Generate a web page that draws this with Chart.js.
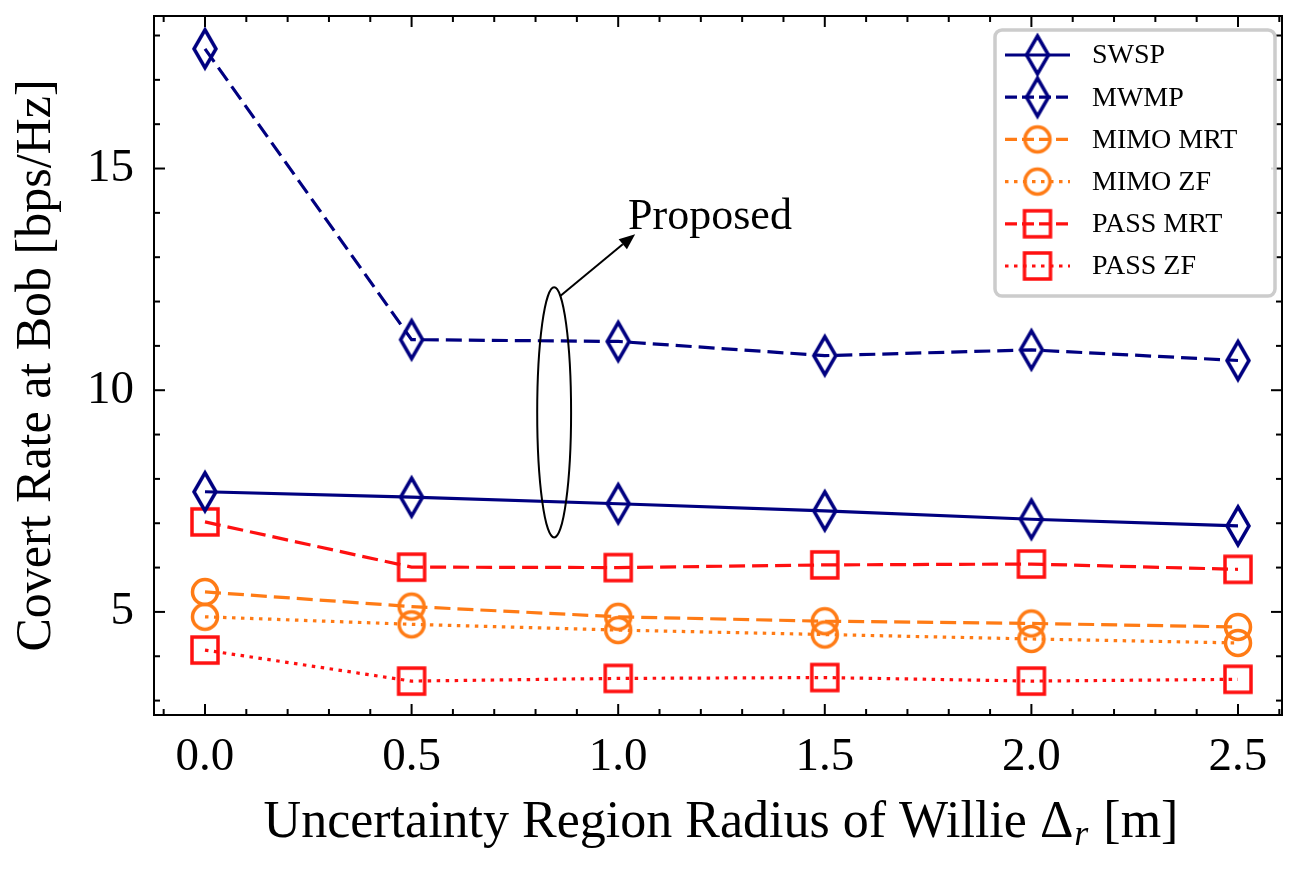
<!DOCTYPE html>
<html>
<head>
<meta charset="utf-8">
<script src="https://cdn.jsdelivr.net/npm/chart.js@4.4.1/dist/chart.umd.min.js"></script>
<style>
  html, body { margin: 0; padding: 0; background: #fff; }
  #wrap { width: 1309px; height: 872px; position: relative; }
</style>
</head>
<body>
<div id="wrap"><canvas id="grafica"></canvas></div>
<script>
// data
const radius = [0.0, 0.5, 1.0, 1.5, 2.0, 2.5];
const swsp = [7.71, 7.59, 7.44, 7.28, 7.09, 6.94];
const mwmp = [17.70, 11.14, 11.10, 10.78, 10.91, 10.67];
const mimoMrt = [5.45, 5.12, 4.89, 4.79, 4.74, 4.66];
const mimoZf = [4.89, 4.72, 4.59, 4.49, 4.39, 4.30];
const passMrt = [7.03, 6.01, 6.00, 6.06, 6.08, 5.96];
const passZf = [4.14, 3.44, 3.50, 3.52, 3.44, 3.48];
const xTicks = [0.0, 0.5, 1.0, 1.5, 2.0, 2.5];
const yTicks = [5, 10, 15];

const navy = '#000080';
const orange = '#ff7b15';
const red = '#ff1010';
const serif = '"Liberation Serif", "DejaVu Serif", serif';

// hollow markers as small canvases
const mk = (w, h, draw) => {
    const c = document.createElement('canvas');
    c.width = w; c.height = h;
    const g = c.getContext('2d');
    g.lineWidth = 3.5;
    draw(g);
    return c;
};
const diamond = mk(30, 48, g => {
    g.strokeStyle = navy;
    g.beginPath();
    g.moveTo(15, 5); g.lineTo(26, 24); g.lineTo(15, 43); g.lineTo(4, 24);
    g.closePath(); g.stroke();
});
const circle = mk(32, 32, g => {
    g.strokeStyle = orange;
    g.beginPath(); g.arc(16, 16, 12.5, 0, Math.PI * 2); g.stroke();
});
const square = mk(32, 32, g => {
    g.strokeStyle = red;
    g.strokeRect(3, 3, 26, 26);
});

const dashed = [16, 7];
const dotted = [3.5, 5.5];

const mkSet = (label, vals, color, dash, marker) => ({
    label,
    data: radius.map((x, i) => ({ x, y: vals[i] })),
    borderColor: color,
    backgroundColor: color,
    borderWidth: 3.2,
    borderDash: dash,
    pointStyle: marker,
    pointRadius: 12,
    pointHoverRadius: 12,
    fill: false,
    tension: 0
});

const series = [
    mkSet('SWSP', swsp, navy, [], diamond),
    mkSet('MWMP', mwmp, navy, dashed, diamond),
    mkSet('MIMO MRT', mimoMrt, orange, dashed, circle),
    mkSet('MIMO ZF', mimoZf, orange, dotted, circle),
    mkSet('PASS MRT', passMrt, red, dashed, square),
    mkSet('PASS ZF', passZf, red, dotted, square)
];

// annotation in data coordinates
const note = { cx: 0.845, cy: 9.50, rx: 0.041, ry: 2.82,
               x0: 0.859, y0: 12.12, x1: 1.041, y1: 13.52,
               tx: 1.024, ty: 13.63, text: 'Proposed' };

const decor = {
    id: 'decor',
    afterDraw(chart) {
        const { ctx, chartArea: a, scales: { x, y } } = chart;
        ctx.save();
        ctx.setLineDash([]);
        ctx.strokeStyle = '#000';
        ctx.lineWidth = 2;
        ctx.strokeRect(a.left, a.top, a.right - a.left, a.bottom - a.top);

        // inward ticks on all four sides
        const tick = (x1, y1, x2, y2) => { ctx.beginPath(); ctx.moveTo(x1, y1); ctx.lineTo(x2, y2); ctx.stroke(); };
        for (let k = -1; k <= 26; k++) {
            const v = k / 10;
            if (v < x.min || v > x.max) continue;
            const px = x.getPixelForValue(v);
            const len = k % 5 === 0 ? 11 : 6;
            tick(px, a.bottom, px, a.bottom - len);
            tick(px, a.top, px, a.top + len);
        }
        for (let v = 3; v <= 18; v++) {
            const py = y.getPixelForValue(v);
            const len = v % 5 === 0 ? 11 : 6;
            tick(a.left, py, a.left + len, py);
            tick(a.right, py, a.right - len, py);
        }

        // ellipse + arrow + label
        ctx.lineWidth = 2;
        ctx.beginPath();
        ctx.ellipse(x.getPixelForValue(note.cx), y.getPixelForValue(note.cy),
            Math.abs(x.getPixelForValue(note.cx + note.rx) - x.getPixelForValue(note.cx)),
            Math.abs(y.getPixelForValue(note.cy + note.ry) - y.getPixelForValue(note.cy)),
            0, 0, Math.PI * 2);
        ctx.stroke();
        const ax = x.getPixelForValue(note.x0), ay = y.getPixelForValue(note.y0);
        const bx = x.getPixelForValue(note.x1), by = y.getPixelForValue(note.y1);
        const ang = Math.atan2(by - ay, bx - ax);
        const hl = 16, hw = 6.5;
        tick(ax, ay, bx - hl * Math.cos(ang), by - hl * Math.sin(ang));
        ctx.fillStyle = '#000';
        ctx.beginPath();
        ctx.moveTo(bx, by);
        ctx.lineTo(bx - hl * Math.cos(ang) + hw * Math.sin(ang), by - hl * Math.sin(ang) - hw * Math.cos(ang));
        ctx.lineTo(bx - hl * Math.cos(ang) - hw * Math.sin(ang), by - hl * Math.sin(ang) + hw * Math.cos(ang));
        ctx.closePath(); ctx.fill();
        ctx.font = '44px ' + serif;
        ctx.textAlign = 'left';
        ctx.textBaseline = 'alphabetic';
        ctx.fillText(note.text, x.getPixelForValue(note.tx), y.getPixelForValue(note.ty));

        // x axis title with subscript r
        const main = 'Uncertainty Region Radius of Willie \u0394';
        const sub = 'r';
        const tail = ' [m]';
        ctx.font = '52px ' + serif;
        const w1 = ctx.measureText(main).width, w3 = ctx.measureText(tail).width;
        ctx.font = 'italic 36px ' + serif;
        const w2 = ctx.measureText(sub).width + 3;
        let tx = (a.left + a.right) / 2 + 3 - (w1 + w2 + w3) / 2;
        const base = 837;
        ctx.font = '52px ' + serif;
        ctx.fillText(main, tx, base);
        ctx.font = 'italic 36px ' + serif;
        ctx.fillText(sub, tx + w1 + 1, base + 8);
        ctx.font = '52px ' + serif;
        ctx.fillText(tail, tx + w1 + w2, base);

        // legend box
        const lx = 995, ly = 30, lw = 280, lh = 266;
        ctx.fillStyle = 'rgba(255,255,255,0.85)';
        ctx.strokeStyle = '#cccccc';
        ctx.lineWidth = 3.5;
        ctx.beginPath();
        ctx.roundRect(lx, ly, lw, lh, 7);
        ctx.fill(); ctx.stroke();
        ctx.font = '28px ' + serif;
        ctx.textBaseline = 'middle';
        chart.data.datasets.forEach((ds, i) => {
            const ry = 55 + i * 42.2;
            ctx.strokeStyle = ds.borderColor;
            ctx.lineWidth = 3.2;
            ctx.setLineDash(ds.borderDash.length ? (ds.borderDash === dotted ? [3.5, 5.5] : [12, 5]) : []);
            tick(1005, ry, 1070, ry);
            ctx.setLineDash([]);
            const m = ds.pointStyle;
            ctx.drawImage(m, 1037.5 - m.width / 2, ry - m.height / 2);
            ctx.fillStyle = '#000';
            ctx.fillText(ds.label, 1092, ry + 1);
        });
        ctx.restore();
    }
};

const chart = new Chart(document.getElementById('grafica'), {
    type: 'line',
    data: { datasets: series },
    options: {
        responsive: true,
        maintainAspectRatio: false,
        animation: false,
        events: [],
        layout: { padding: { top: 16, right: 27, left: 0, bottom: 0 } },
        plugins: { legend: { display: false }, tooltip: { enabled: false } },
        scales: {
            x: {
                type: 'linear',
                min: -0.1234,
                max: 2.6065,
                afterBuildTicks: s => { s.ticks = xTicks.map(v => ({ value: v })); },
                afterFit: s => { s.height = 157; s.paddingLeft = 0; s.paddingRight = 0; },
                grid: { display: false, drawTicks: false },
                border: { display: false },
                ticks: { color: '#000', padding: 14, font: { family: serif, size: 47 },
                         maxRotation: 0, callback: v => v.toFixed(1) }
            },
            y: {
                min: 2.675,
                max: 18.44,
                afterBuildTicks: s => { s.ticks = yTicks.map(v => ({ value: v })); },
                afterFit: s => { s.width = 154; s.paddingTop = 0; s.paddingBottom = 0; },
                grid: { display: false, drawTicks: false },
                border: { display: false },
                ticks: { color: '#000', padding: 20, font: { family: serif, size: 47 },
                         callback: v => String(v) },
                title: { display: true, text: 'Covert Rate at Bob [bps/Hz]', color: '#000',
                         font: { family: serif, size: 50 }, padding: { top: 7, bottom: 0 } }
            }
        }
    },
    plugins: [decor]
});
</script>
</body>
</html>
